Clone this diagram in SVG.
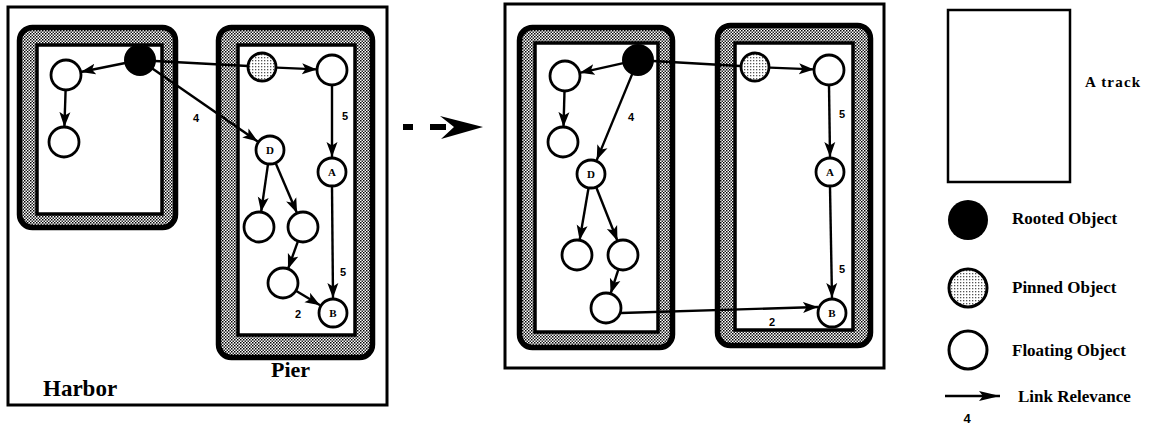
<svg xmlns="http://www.w3.org/2000/svg" width="1153" height="424" viewBox="0 0 1153 424">
<defs>
<pattern id="stip" width="3" height="3" patternUnits="userSpaceOnUse"><rect width="3" height="3" fill="#fff"/><rect width="1.5" height="1.5" fill="#000"/><rect x="1.5" y="1.5" width="1.5" height="1.5" fill="#222"/></pattern>
<pattern id="pin" width="3" height="3" patternUnits="userSpaceOnUse"><rect width="3" height="3" fill="#fff"/><rect width="1.3" height="1.3" fill="#555"/></pattern>
<marker id="ah" markerUnits="userSpaceOnUse" markerWidth="16" markerHeight="12" refX="15" refY="6" orient="auto"><path d="M0,0.5 L15,6 L0,11.5 L3.5,6 z" fill="#000"/></marker>
<marker id="ahL" markerUnits="userSpaceOnUse" markerWidth="22" markerHeight="12" refX="21" refY="6" orient="auto"><path d="M0,1 L21,6 L0,11 L4,6 z" fill="#000"/></marker>
</defs>
<style>
.box{fill:#fff;stroke:#000;stroke-width:3}
.band{fill:url(#stip);stroke:#000;stroke-width:5.5}
.inner{fill:#fff;stroke:#000;stroke-width:3.5}
.fl{fill:#fff;stroke:#000;stroke-width:2.8}
.ro{fill:#000;stroke:#000;stroke-width:2}
.pi{fill:url(#pin);stroke:#000;stroke-width:2.8}
.e{stroke:#000;stroke-width:2.4;fill:none}
.a{marker-end:url(#ah)}
.nl{font-family:"Liberation Serif",serif;font-weight:bold;font-size:11px;text-anchor:middle}
.el{font-family:"Liberation Sans",sans-serif;font-weight:bold;font-size:11px;text-anchor:middle}
.big{font-family:"Liberation Serif",serif;font-weight:bold;font-size:23px}
.lg{font-family:"Liberation Serif",serif;font-weight:bold;font-size:17px}
</style>
<rect width="1153" height="424" fill="#fff"/>

<!-- Panel 1 -->
<g id="panel1">
<rect class="box" x="8" y="7" width="379" height="398"/>
<text class="big" x="43" y="396">Harbor</text>
<text class="big" x="271" y="377" style="font-size:22px">Pier</text>
</g>
<g id="track-harbor">
<rect class="band" x="19.5" y="27.5" width="156" height="200" rx="13"/>
<rect class="inner" x="37" y="45" width="125" height="169"/>
</g>
<g id="track-pier">
<rect class="band" x="218.5" y="27.5" width="154" height="330" rx="13"/>
<rect class="inner" x="238" y="45" width="117" height="290"/>
</g>

<!-- Panel 2 -->
<g id="panel2">
<rect class="box" x="505" y="4" width="379" height="364"/>
</g>
<g id="track-left2">
<rect class="band" x="519.5" y="27.5" width="153" height="320" rx="13"/>
<rect class="inner" x="535" y="43" width="123" height="289"/>
</g>
<g id="track-right2">
<rect class="band" x="717.5" y="25.5" width="153" height="320" rx="13"/>
<rect class="inner" x="735" y="43" width="118" height="287"/>
</g>

<!-- Transition arrow -->
<g id="transition">
<rect x="403" y="124" width="10" height="6" fill="#000"/>
<rect x="430" y="124" width="16" height="6" fill="#000"/>
<polygon points="440,116 483,127 441,139 454,127" fill="#000"/>
</g>

<!-- Connectors -->
<g id="connectors">
<line class="e a" x1="125.3" y1="63" x2="80.7" y2="72"/>
<line class="e a" x1="65.6" y1="90" x2="64.4" y2="127"/>
<line class="e" x1="155" y1="61" x2="248" y2="66"/>
<line class="e a" x1="277" y1="67.6" x2="317" y2="69.4"/>
<line class="e a" x1="332" y1="85" x2="332" y2="157"/>
<line class="e a" x1="332" y1="187" x2="333" y2="298"/>
<line class="e a" x1="152.3" y1="68.5" x2="257.7" y2="141.5"/>
<line class="e a" x1="267.9" y1="164.8" x2="261.1" y2="212.1"/>
<line class="e a" x1="275.9" y1="163.8" x2="297.1" y2="213.2"/>
<line class="e a" x1="298" y1="241.1" x2="288" y2="268.9"/>
<line class="e a" x1="295.9" y1="290.7" x2="320.1" y2="305.3"/>

<line class="e a" x1="623.3" y1="63.2" x2="579.7" y2="72.8"/>
<line class="e a" x1="564.5" y1="91" x2="563.5" y2="127"/>
<line class="e a" x1="632.3" y1="73.9" x2="596.7" y2="160.1"/>
<line class="e a" x1="588.4" y1="188.8" x2="579.6" y2="240.2"/>
<line class="e a" x1="596.5" y1="188" x2="617.5" y2="241"/>
<line class="e a" x1="618.4" y1="269.3" x2="610.6" y2="293.7"/>
<line class="e" x1="653" y1="61" x2="740" y2="66"/>
<line class="e a" x1="770" y1="67.6" x2="814" y2="69.4"/>
<line class="e a" x1="829" y1="85" x2="830" y2="157"/>
<line class="e a" x1="830" y1="187" x2="832" y2="298"/>
<line class="e a" x1="621" y1="313" x2="818" y2="307"/>

<text class="el" x="196" y="122">4</text>
<text class="el" x="345" y="120">5</text>
<text class="el" x="343" y="276">5</text>
<text class="el" x="298" y="318">2</text>
<text class="el" x="631" y="121">4</text>
<text class="el" x="842" y="118">5</text>
<text class="el" x="842" y="273">5</text>
<text class="el" x="772" y="326">2</text>
</g>

<!-- Nodes panel 1 -->
<g id="n1-root"><circle class="ro" cx="140" cy="60" r="15"/></g>
<g id="n1-f1"><circle class="fl" cx="66" cy="75" r="15"/></g>
<g id="n1-f2"><circle class="fl" cx="64" cy="142" r="15"/></g>
<g id="n1-pin"><circle class="pi" cx="262" cy="67" r="14"/></g>
<g id="n1-f3"><circle class="fl" cx="332" cy="70" r="15"/></g>
<g id="n1-D"><circle class="fl" cx="270" cy="150" r="14"/><text class="nl" x="270" y="154">D</text></g>
<g id="n1-A"><circle class="fl" cx="332" cy="172" r="14"/><text class="nl" x="332" y="176">A</text></g>
<g id="n1-f4"><circle class="fl" cx="259" cy="227" r="15"/></g>
<g id="n1-f5"><circle class="fl" cx="303" cy="227" r="15"/></g>
<g id="n1-f6"><circle class="fl" cx="283" cy="283" r="15"/></g>
<g id="n1-B"><circle class="fl" cx="333" cy="313" r="14"/><text class="nl" x="333" y="317">B</text></g>

<!-- Nodes panel 2 -->
<g id="n2-root"><circle class="ro" cx="638" cy="60" r="15"/></g>
<g id="n2-f1"><circle class="fl" cx="565" cy="76" r="15"/></g>
<g id="n2-f2"><circle class="fl" cx="563" cy="142" r="15"/></g>
<g id="n2-D"><circle class="fl" cx="591" cy="174" r="14"/><text class="nl" x="591" y="178">D</text></g>
<g id="n2-f4"><circle class="fl" cx="577" cy="255" r="15"/></g>
<g id="n2-f5"><circle class="fl" cx="623" cy="255" r="15"/></g>
<g id="n2-f6"><circle class="fl" cx="606" cy="308" r="15"/></g>
<g id="n2-pin"><circle class="pi" cx="755" cy="67" r="14"/></g>
<g id="n2-f3"><circle class="fl" cx="829" cy="70" r="15"/></g>
<g id="n2-A"><circle class="fl" cx="830" cy="172" r="14"/><text class="nl" x="830" y="176">A</text></g>
<g id="n2-B"><circle class="fl" cx="832" cy="313" r="14"/><text class="nl" x="832" y="317">B</text></g>

<!-- Legend -->
<g id="legend-track">
<rect x="948" y="10" width="122" height="172" fill="#fff" stroke="#000" stroke-width="2.5"/>
<text class="lg" x="1085" y="87" style="font-size:15px;letter-spacing:1.2px">A track</text>
</g>
<g id="legend-rooted">
<circle cx="968" cy="220" r="20" fill="#000"/>
<text class="lg" x="1012" y="224">Rooted Object</text>
</g>
<g id="legend-pinned">
<circle cx="968" cy="288" r="19" fill="url(#pin)" stroke="#000" stroke-width="3"/>
<text class="lg" x="1012" y="293">Pinned Object</text>
</g>
<g id="legend-floating">
<circle cx="968" cy="350" r="19" fill="#fff" stroke="#000" stroke-width="3"/>
<text class="lg" x="1012" y="356">Floating Object</text>
</g>
<g id="legend-link">
<line class="e" x1="945" y1="396" x2="1000" y2="396" marker-end="url(#ahL)"/>
<text class="lg" x="1018" y="402">Link Relevance</text>
<text class="el" x="967" y="423" style="font-size:13px">4</text>
</g>
</svg>
